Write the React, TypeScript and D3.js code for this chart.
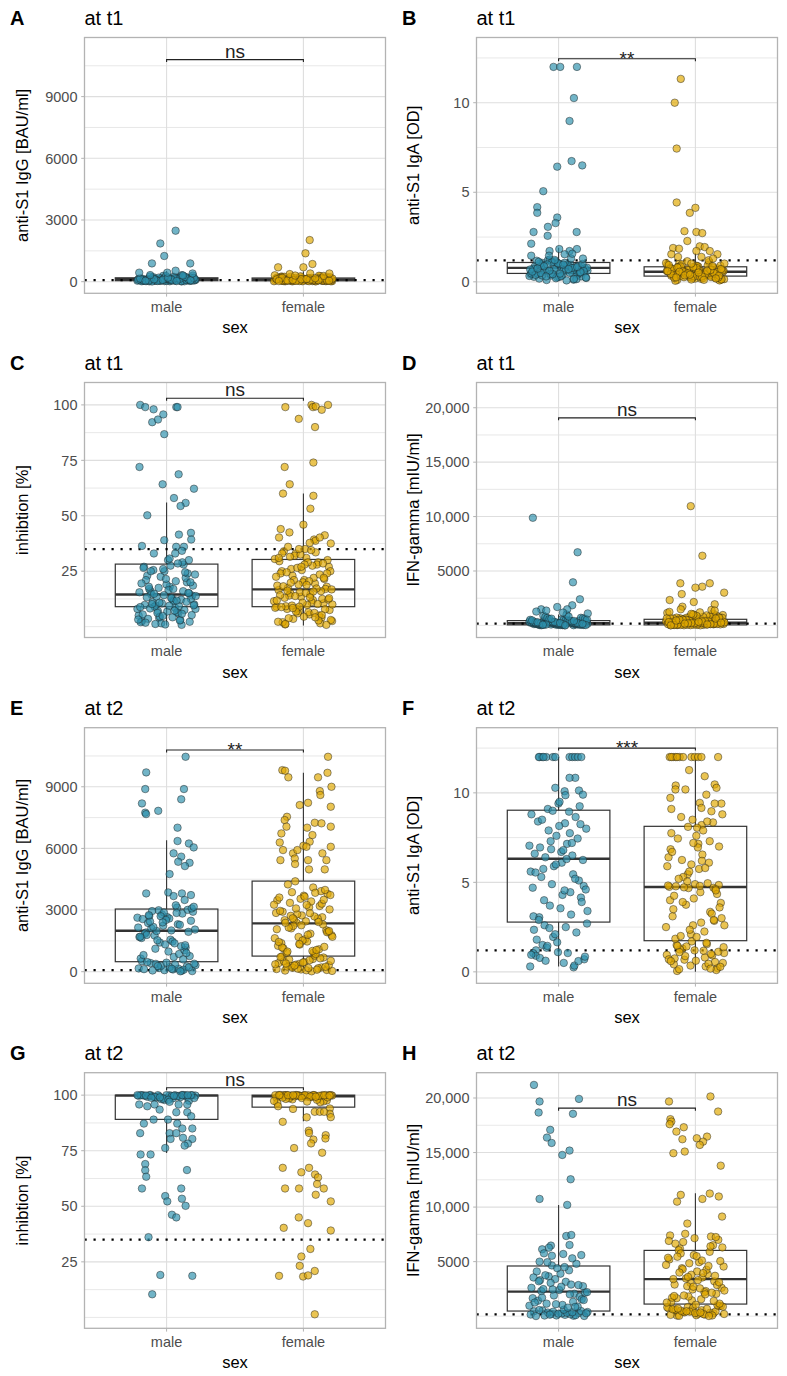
import React from "react";
import * as d3 from "d3";

// ---------------- DATA ----------------
const CATEGORIES = ["male", "female"];
const PANEL_LETTERS = ["A", "B", "C", "D", "E", "F", "G", "H"];
const PANEL_TITLES = ["at t1", "at t1", "at t1", "at t1", "at t2", "at t2", "at t2", "at t2"];
const Y_LABELS = [
  "anti-S1 IgG [BAU/ml]", "anti-S1 IgA [OD]", "inhibtion [%]", "IFN-gamma [mIU/ml]",
  "anti-S1 IgG [BAU/ml]", "anti-S1 IgA [OD]", "inhibtion [%]", "IFN-gamma [mIU/ml]",
];
const SIG_LABELS = ["ns", "**", "ns", "ns", "**", "***", "ns", "ns"];
const BRACKET_VALUES = [10800, 12.45, 103, 19070, 10790, 12.5, 103.3, 19070];
const THRESHOLDS = [80, 1.2, 35, 160, 80, 1.2, 35, 160];

const IGG_TICKS = [0, 3000, 6000, 9000];
const IGG_TICK_LABELS = ["0", "3000", "6000", "9000"];
const IGG_MINOR = [1500, 4500, 7500, 10500];
const IGA_TICKS = [0, 5, 10];
const IGA_TICK_LABELS = ["0", "5", "10"];
const IGA_MINOR = [2.5, 7.5, 12.5];
const INH_TICKS = [25, 50, 75, 100];
const INH_TICK_LABELS = ["25", "50", "75", "100"];
const INH_MINOR = [0, 12.5, 37.5, 62.5, 87.5];
const IFN_TICKS = [5000, 10000, 15000, 20000];
const IFN_TICK_LABELS = ["5000", "10,000", "15,000", "20,000"];
const IFN_MINOR = [0, 2500, 7500, 12500, 17500];

const IGG_DOMAIN: [number, number] = [-564, 11875];
const IGA_DOMAIN: [number, number] = [-0.64, 13.64];
const INH_DOMAIN: [number, number] = [-4.9, 110.1];
const IFN_DOMAIN: [number, number] = [-1112, 22320];

// box stats: [lower whisker, q1, median, q3, upper whisker]
const A_MALE_BOX = [0, 50, 120, 190, 520];
const A_FEMALE_BOX = [0, 45, 110, 180, 500];
const B_MALE_BOX = [0.05, 0.47, 0.78, 1.08, 1.9];
const B_FEMALE_BOX = [0.03, 0.32, 0.56, 0.84, 1.6];
const C_MALE_BOX = [0.5, 9, 14.5, 28.2, 56];
const C_FEMALE_BOX = [0.5, 9, 16.8, 30.3, 60];
const D_MALE_BOX = [0, 50, 200, 440, 1000];
const D_FEMALE_BOX = [0, 50, 250, 560, 1250];
const E_MALE_BOX = [0, 487, 1995, 3050, 6400];
const E_FEMALE_BOX = [0, 760, 2350, 4410, 9680];
const F_MALE_BOX = [0.3, 2.78, 6.32, 9.03, 12];
const F_FEMALE_BOX = [0, 1.74, 4.74, 8.13, 12];
const G_MALE_BOX = [74, 89.1, 99.8, 100, 100];
const G_FEMALE_BOX = [88.3, 94.6, 99.5, 100, 100];
const H_MALE_BOX = [0, 470, 2250, 4600, 10200];
const H_FEMALE_BOX = [0, 1110, 3400, 6030, 11270];

// individually read points: [jitter offset (in category steps), value]
const A_MALE_OUT = [[0.066, 2480], [-0.046, 1860], [-0.017, 1250], [-0.107, 890], [0.173, 890], [0.066, 535], [0.005, 440], [-0.2, 440], [0.19, 400], [-0.12, 320], [0.12, 300]];
const A_FEMALE_OUT = [[0.046, 2025], [0.015, 1380], [0.066, 860], [0, 700], [-0.185, 700], [0.19, 400], [-0.1, 370], [0.05, 400], [-0.06, 300]];
const A_MALE = [15, 42, 88, 130, 65, 210, 30, 150, 95, 55, 175, 22, 118, 260, 70, 140, 48, 190, 105, 35, 80, 230, 125, 60, 160, 18, 98, 285, 75, 135, 45, 205, 112, 28, 168, 90, 52, 240, 145, 68, 110, 38, 182, 85, 300, 58, 128, 20, 155, 102, 72, 220, 40, 138, 92, 33, 198, 115, 62, 250, 82, 148, 25, 172, 108, 50, 132, 78, 215, 44, 96, 165, 12, 122, 275, 66, 142, 36, 188, 100, 56, 228, 86, 152, 30, 118, 70, 195, 47, 320];
const A_FEMALE = [20, 55, 95, 140, 70, 185, 35, 120, 250, 60, 105, 28, 165, 85, 45, 210, 130, 75, 18, 150, 100, 40, 270, 115, 65, 190, 88, 32, 145, 230, 58, 110, 22, 175, 92, 48, 125, 205, 80, 38, 160, 98, 62, 290, 135, 25, 108, 72, 195, 52, 128, 15, 170, 90, 42, 240, 118, 68, 155, 30, 102, 220, 78, 50, 138, 182, 95, 26, 112, 64, 260, 148, 44, 88, 200, 122, 36, 168, 76, 310, 104, 56, 142, 24, 178, 94, 46, 215, 132, 66, 158, 34, 114, 84, 245, 54, 126, 188, 74, 40, 152, 98, 62, 280, 120, 30, 172, 86, 50, 135];

const B_MALE_OUT = [[-0.037, 12], [0.012, 12], [0.134, 12], [0.112, 10.26], [0.08, 8.98], [0.095, 6.74], [0.173, 6.5], [-0.01, 6.43], [-0.112, 5.06], [-0.156, 4.17], [-0.156, 3.85], [-0.01, 3.59], [-0.022, 3.28], [-0.078, 3.07], [-0.08, 2.57], [-0.183, 2.78], [0.132, 2.78], [-0.2, 2.13], [-0.066, 1.72], [0.005, 1.83], [0.134, 1.83], [0.08, 1.72], [0.044, 1.54], [-0.2, 1.46], [-0.07, 1.46], [0.178, 1.3], [0.1, 1.57]];
const B_FEMALE_OUT = [[-0.107, 11.33], [-0.151, 10.0], [-0.137, 7.44], [-0.137, 4.43], [0, 4.13], [-0.041, 3.85], [-0.08, 2.83], [0.007, 2.78], [0.05, 2.72], [-0.059, 2.28], [-0.163, 1.89], [-0.12, 1.85], [0.032, 1.98], [0.068, 1.94], [0.105, 1.72], [0.161, 1.54], [-0.176, 1.54], [-0.127, 1.39], [0.007, 1.72], [0.044, 1.39], [-0.03, 1.02], [0.129, 1.3]];
const B_MALE = [0.12, 0.35, 0.62, 0.85, 1.05, 0.48, 0.72, 0.28, 0.95, 1.2, 0.55, 0.8, 0.18, 0.68, 1.1, 0.42, 0.9, 0.6, 0.3, 1.0, 0.75, 0.5, 1.25, 0.22, 0.66, 0.88, 0.4, 1.15, 0.58, 0.82, 0.1, 0.7, 0.98, 0.45, 0.78, 1.08, 0.33, 0.63, 0.92, 0.52, 0.25, 0.86, 1.3, 0.6, 0.76, 0.38, 1.02, 0.15, 0.7, 0.47, 0.94, 0.56, 0.84, 0.27, 1.18, 0.65, 0.44, 0.79, 1.06, 0.36, 0.9, 0.2, 0.73, 0.5, 0.97, 0.6, 0.32, 1.12, 0.81, 0.43, 0.69, 0.08, 0.87, 0.54, 1.04, 0.39, 0.77, 0.62, 0.24, 0.96, 0.49, 0.83, 1.22, 0.57, 0.71, 0.3, 1.0, 0.46, 0.74, 0.16];
const B_FEMALE = [0.1, 0.3, 0.55, 0.8, 0.42, 0.65, 0.2, 0.9, 0.5, 0.35, 0.72, 0.15, 0.6, 1.0, 0.28, 0.48, 0.78, 0.38, 0.58, 0.12, 0.85, 0.45, 0.68, 0.25, 0.95, 0.52, 0.33, 0.75, 0.18, 0.62, 1.1, 0.4, 0.55, 0.3, 0.82, 0.47, 0.22, 0.7, 0.36, 0.6, 0.08, 0.88, 0.5, 0.27, 0.66, 1.05, 0.43, 0.57, 0.2, 0.76, 0.34, 0.92, 0.53, 0.14, 0.64, 0.4, 0.8, 0.3, 0.58, 0.46, 0.98, 0.24, 0.7, 0.37, 0.52, 1.15, 0.62, 0.17, 0.84, 0.44, 0.32, 0.74, 0.56, 0.26, 0.9, 0.49, 0.06, 0.68, 0.39, 0.6, 0.21, 0.86, 0.54, 0.31, 0.72, 1.2, 0.45, 0.64, 0.28, 0.8, 0.5, 0.13, 0.94, 0.41, 0.58, 0.35, 0.77, 0.23, 0.66, 0.48, 1.02, 0.3, 0.56, 0.19, 0.83, 0.44, 0.62, 0.36, 0.71, 0.52, 0.25, 0.88, 0.4, 0.6, 0.11];

const C_MALE_OUT = [[-0.193, 100], [-0.156, 99], [-0.095, 98], [-0.105, 92.2], [-0.063, 93.4], [-0.024, 95.7], [0.071, 99], [0.08, 99], [-0.017, 86.8], [-0.198, 72], [0.088, 68.7], [-0.029, 64.2], [0.2, 62.2], [0.054, 58], [0.139, 55.8], [0.102, 54.4], [-0.141, 50.2], [0.178, 42.3], [0.09, 41.5], [0.18, 39.3], [-0.017, 39], [-0.18, 36.4], [0.07, 36], [0.127, 36], [0.112, 34.2], [-0.093, 33], [0.063, 33], [0.022, 30.7], [0.163, 30]];
const C_FEMALE_OUT = [[-0.132, 99], [0.059, 100], [0.07, 99], [0.09, 99.3], [0.134, 97.8], [0.18, 100], [-0.034, 93.7], [0.085, 90], [0.073, 74], [-0.137, 72], [-0.1, 64.2], [-0.149, 60], [0.073, 59], [0.051, 53.2], [0, 46], [-0.166, 44], [-0.102, 42.5], [-0.178, 40.2], [0.078, 39.3], [0.088, 38.7], [0.156, 41.2], [0.12, 40.2], [0.2, 37.5], [0.046, 37.8], [-0.112, 36], [-0.032, 35]];
const C_MALE = [0.8, 4, 8, 12, 16, 20, 25, 2.5, 6, 9.5, 14, 18, 23, 28, 1.5, 5, 8.5, 11, 15, 19, 27, 3, 7, 10, 13, 17, 22, 26, 2, 6.5, 9, 12.5, 16.5, 21, 29, 4.5, 8, 11.5, 14.5, 24, 1, 5.5, 9.2, 13.5, 18.5, 27.5, 3.5, 7.5, 10.5, 15.5, 20.5, 25.5, 2.2, 6.8, 9.8, 12.2, 17.5, 23.5, 4.2, 8.2, 11.2, 14.2, 19.5, 28.5, 1.2, 5.2, 9.4, 13.2, 16, 22.5, 3.2, 7.2, 10.2, 15.2, 21.5, 26.5, 2.8, 6.2, 9.6, 12.8, 18, 24.5, 4.8, 8.8, 11.8, 14.8, 20, 30, 1.8, 5.8, 10.8, 13.8, 17, 25];
const C_FEMALE = [1, 4, 7, 9, 12, 15, 18, 21, 25, 29, 33, 2.5, 5.5, 8, 10.5, 13.5, 16.5, 19.5, 23, 27, 31, 34, 1.5, 6, 8.5, 11, 14, 17, 20, 24, 28, 32, 3, 6.5, 9.2, 12.5, 15.5, 18.5, 22, 26, 30, 35, 2, 5, 8.2, 11.5, 14.5, 17.5, 21.5, 25.5, 29.5, 33.5, 3.5, 7.5, 9.8, 13, 16, 19, 22.5, 27.5, 31.5, 0.8, 4.5, 8.8, 10.2, 13.8, 16.8, 20.5, 24.5, 28.5, 32.5, 2.2, 6.2, 9.5, 12.2, 15.2, 18.2, 23.5, 26.5, 30.5, 34.5, 3.8, 7.8, 10.8, 14.2, 17.2, 21, 25, 29, 1.2, 5.2, 9, 11.8, 15.8, 19.8, 24, 28, 33, 2.8, 6.8, 10, 13.2, 16.2, 22, 27, 31, 4.2, 8.4, 12.8, 18.8];

const D_MALE_OUT = [[-0.188, 9890], [0.139, 6720], [0.105, 3960], [0.156, 2400], [0.1, 1850], [0.063, 1480], [-0.01, 1690], [-0.127, 1480], [-0.163, 1270], [-0.09, 1360], [0.032, 1180]];
const D_FEMALE_OUT = [[-0.034, 10960], [0.051, 6400], [-0.11, 3870], [0.105, 3870], [0.05, 3560], [0, 3470], [0.21, 3010], [-0.1, 2880], [-0.188, 2330], [-0.012, 2150], [0.141, 1940], [-0.095, 1720], [-0.107, 1480], [0.117, 1420], [-0.19, 1240], [-0.03, 1060], [0.141, 1360]];
const D_MALE = [20, 80, 150, 220, 300, 420, 50, 120, 190, 260, 380, 550, 35, 100, 170, 240, 330, 480, 700, 60, 130, 200, 280, 360, 520, 15, 90, 160, 230, 310, 450, 650, 40, 110, 180, 250, 340, 500, 900, 70, 140, 210, 290, 400, 600, 25, 95, 165, 235, 320, 470, 780, 55, 125, 195, 270, 350, 530, 10, 85, 155, 225, 305, 440, 680, 45, 115, 185, 255, 345, 510, 1000, 65, 135, 205, 285, 390, 580, 30, 105, 175, 245, 325, 460, 820, 75, 145, 215, 295, 410, 620, 1100, 5, 60];
const D_FEMALE = [30, 100, 180, 260, 350, 480, 640, 850, 60, 140, 220, 300, 420, 560, 760, 1000, 20, 90, 170, 250, 340, 460, 600, 800, 1150, 50, 130, 210, 290, 400, 530, 700, 950, 10, 80, 160, 240, 320, 440, 580, 740, 40, 120, 200, 280, 380, 500, 660, 900, 70, 150, 230, 310, 430, 550, 720, 1080, 25, 110, 190, 270, 360, 470, 620, 820, 55, 135, 215, 295, 410, 540, 680, 920, 15, 95, 175, 255, 345, 490, 650, 780, 45, 125, 205, 285, 375, 515, 690, 1200, 65, 145, 225, 305, 395, 525, 710, 870, 35, 115, 195, 275, 365, 505, 630, 990, 5, 85, 165, 245, 330, 450];

const E_MALE_OUT = [[0.139, 10460], [-0.149, 9700], [-0.156, 8890], [0.127, 8890], [0.107, 8390], [-0.18, 8190], [-0.156, 7740], [-0.15, 7670], [-0.061, 7830], [0.08, 7010], [0.08, 6360], [0.163, 6240], [0.198, 6050], [0.051, 5760], [0.107, 5600], [0.085, 5350], [0.168, 5300], [0.134, 5140], [0.022, 4750], [-0.149, 3810], [0.012, 3860], [0.112, 3810], [0.178, 3730], [0.051, 3680], [0.132, 3490]];
const E_FEMALE_OUT = [[0.18, 10460], [-0.154, 9810], [-0.134, 9780], [-0.11, 9460], [0.176, 9680], [0.107, 9460], [0.205, 9000], [0.12, 8790], [0.124, 8600], [0.034, 8220], [-0.027, 8110], [0.2, 8030], [-0.12, 7540], [-0.137, 7380], [0.083, 7250], [0.132, 7220], [-0.124, 7060], [0.027, 7010], [0.2, 7060], [-0.161, 6730], [0.066, 6650], [0.046, 6330], [-0.173, 6290], [-0.076, 5760], [-0.044, 5920], [0, 6130], [0.022, 6080], [0.2, 6080], [-0.149, 5920], [0.139, 5760], [-0.063, 5510], [-0.168, 5430], [0.034, 5430], [-0.061, 5240], [0.168, 5430], [0.041, 4980], [0.156, 4980]];
const E_MALE = [45, 180, 320, 110, 420, 260, 75, 510, 150, 380, 30, 230, 470, 95, 290, 160, 350, 60, 210, 440, 125, 20, 275, 390, 140, 2710, 1180, 2240, 640, 3120, 1760, 2480, 980, 1910, 2830, 1420, 2630, 720, 2110, 3010, 1330, 2560, 860, 1980, 2920, 1560, 2370, 1050, 2790, 1690, 3230, 2180, 760, 2660, 1850, 1240, 2990, 2050, 1470, 2440, 910, 2880, 1640, 2310, 1120, 3080, 2590, 1790, 600, 2700, 2150, 1380, 2950, 1940, 2520, 810, 2280, 1530, 3160, 2010, 2750, 1290, 2400, 1700, 2860];
const E_FEMALE = [55, 210, 380, 130, 620, 290, 85, 470, 740, 170, 340, 40, 560, 250, 690, 110, 420, 780, 195, 320, 70, 510, 650, 150, 360, 20, 590, 240, 450, 710, 100, 300, 530, 180, 400, 2650, 1320, 3480, 940, 2110, 3790, 1580, 2920, 1090, 2380, 3260, 1850, 4250, 1210, 2740, 3610, 860, 2230, 3030, 1470, 2510, 3920, 1690, 2860, 1010, 3350, 2020, 3700, 1390, 2590, 4400, 1770, 3140, 920, 2300, 3550, 1260, 2690, 3870, 1940, 2450, 1140, 3200, 2800, 1630, 3420, 2150, 3980, 1520, 2960, 1060, 2550, 3730, 1800, 2380, 3310, 1350, 2070, 4100, 2720, 1920, 3650, 1180, 2420, 3080, 1700, 2850, 980, 3500, 2260, 1450, 3840, 2600, 1980, 3250];

const F_MALE_OUT = [[-0.139, 12], [-0.12, 12], [-0.09, 12], [-0.041, 12], [0.08, 12], [0.1, 12], [0.12, 12], [0.141, 12], [0.166, 12], [-0.144, 12], [-0.11, 12], [-0.024, 12], [0.122, 10.84], [0.08, 10.84], [-0.024, 10.28], [0.044, 10.09], [0.149, 10.13], [0.178, 9.9], [0.05, 9.87], [0.007, 9.5], [-0.185, 1.04], [-0.166, 0.9], [-0.137, 0.78], [-0.095, 0.62], [-0.2, 0.95]];
const F_FEMALE_OUT = [[-0.188, 12], [-0.163, 12], [-0.144, 12], [-0.115, 12], [-0.09, 12], [-0.029, 12], [-0.005, 12], [0.02, 12], [0.044, 12], [0.166, 12], [-0.176, 12], [-0.134, 12], [-0.046, 11.27], [0.068, 10.93], [-0.144, 10.41], [0.141, 10.47], [0.154, 10.28], [-0.073, 10.19], [-0.146, 10.19], [-0.183, 9.72], [0.08, 9.9], [0.032, 9.44], [0.19, 9.4], [0.141, 9.4], [0.044, 9.16], [0.117, 8.97], [-0.176, 9.1]];
const F_MALE = [0.25, 6.85, 3.4, 8.3, 1.5, 5.1, 7.6, 2.35, 4.45, 9.1, 0.7, 6.1, 3.05, 8.65, 1.95, 5.6, 7.15, 2.6, 4.15, 9.4, 1.2, 6.5, 3.7, 8.0, 0.5, 5.3, 7.45, 2.1, 4.7, 8.95, 1.35, 6.25, 3.55, 8.4, 0.35, 4.9, 7.05, 2.5, 5.75, 9.25, 1.65, 6.6, 3.2, 7.9, 0.85, 4.3, 6.95, 2.2, 5.9, 8.8, 1.05, 6.4, 3.9, 8.15, 1.8, 5.45, 7.3, 2.7, 4.55, 8.5, 0.6, 6.0, 3.1, 7.75, 1.45, 4.8, 6.7, 2.9, 5.2, 9.0, 0.3, 6.3, 4.0, 8.25, 1.1, 5.55, 7.2, 2.45, 4.6, 6.8];
const F_FEMALE = [0.05, 4.7, 2.1, 6.4, 0.8, 1.3, 4.85, 7.6, 0.42, 3.35, 5.45, 1.05, 8.2, 0.15, 4.62, 2.6, 6.85, 1.55, 0.68, 3.85, 7.15, 4.78, 0.92, 2.35, 5.9, 1.18, 8.65, 0.22, 4.9, 3.1, 6.1, 1.42, 0.5, 4.45, 7.45, 2.85, 1.7, 4.75, 0.3, 5.3, 3.6, 8.05, 0.75, 1.0, 4.68, 2.5, 6.55, 1.25, 0.1, 4.1, 7.75, 4.95, 0.88, 3.0, 5.75, 1.5, 8.35, 0.35, 4.82, 2.25, 6.25, 1.12, 0.62, 3.5, 7.3, 5.05, 1.38, 2.75, 5.2, 0.55, 8.5, 4.0, 1.62, 4.72, 0.28, 6.95, 1.85, 3.25, 5.6, 0.95, 7.9, 2.0, 4.35, 1.2, 6.7, 0.45, 3.75, 8.8, 4.8, 1.45, 2.9, 6.0, 0.7, 5.8, 3.9, 7.0, 1.95, 4.25, 0.18, 8.1, 2.6, 6.2, 1.1, 4.55, 7.2, 0.6, 8.4];

const G_MALE_OUT = [[-0.2, 95.8], [-0.141, 95], [-0.051, 93.5], [-0.088, 95.8], [0.088, 95.8], [0.151, 95.8], [0.022, 97], [0.151, 92.3], [0.071, 92.3], [0.18, 90.5], [-0.166, 87.2], [-0.095, 89], [0.01, 89], [0.078, 87.2], [0.115, 85], [0.188, 85], [-0.193, 82.9], [0.022, 82.9], [0.071, 82.9], [0.029, 80.3], [0.188, 80.3], [0.12, 80.8], [0.156, 78.2], [0.132, 77.3], [-0.01, 76.2], [-0.19, 73.3], [-0.117, 73.3], [-0.156, 69], [-0.156, 66.2], [-0.149, 63.3], [0.149, 66.3], [-0.18, 58], [0.107, 58], [-0.01, 54.6], [0.005, 52.2], [0.112, 53.4], [0.139, 50.2], [0.039, 46.2], [0.071, 45], [-0.132, 36.1], [-0.046, 19.1], [0.188, 18.7], [-0.105, 10.4]];
const G_FEMALE_OUT = [[-0.185, 95], [-0.076, 93.8], [0.193, 94], [0.024, 90], [0.083, 92.5], [0.12, 92.5], [0.193, 91.6], [0.2, 90.1], [0.151, 92.5], [-0.151, 88], [0.039, 84], [0.041, 83], [0.163, 82], [0.161, 80.5], [0.073, 80], [0.056, 78.3], [-0.068, 76.2], [0.137, 74.1], [-0.151, 67.3], [-0.015, 65.3], [0.041, 67.3], [0.085, 64.3], [0.107, 63], [0.1, 60], [-0.134, 58], [-0.032, 58], [0.149, 58], [0.09, 55.2], [0.2, 52.2], [-0.034, 45], [0.034, 42.4], [-0.144, 40.3], [0.2, 39.1], [0.051, 30.8], [-0.015, 27.4], [-0.027, 23.2], [0.083, 20.9], [-0.178, 18.7], [-0.002, 18.4], [0.034, 18.9], [0.083, 1.4]];
const G_MALE = [100, 99.5, 99.8, 98.6, 100, 99.2, 97.8, 100, 99.6, 98.9, 100, 99.9, 99.3, 100, 98.2, 99.7, 100, 99.4, 97.5, 100, 99.8, 99.1, 100, 98.7, 99.6, 100, 99.9, 98.4, 100, 99.5, 99.2, 100, 97.9, 99.8, 100, 99.0, 100, 99.7, 98.8, 100];
const G_FEMALE = [100, 99.6, 99.9, 98.8, 100, 99.3, 97.6, 100, 99.7, 98.5, 100, 99.8, 99.1, 100, 97.2, 99.5, 100, 99.9, 98.1, 100, 99.4, 100, 96.8, 99.8, 100, 99.2, 98.6, 100, 99.7, 100, 97.9, 99.5, 100, 99.9, 98.3, 100, 99.6, 96.5, 100, 99.8, 99.0, 100, 98.9, 99.7, 100, 97.4, 99.4, 100, 99.9, 98.7, 100, 99.3, 100, 99.8, 97.1];

const H_MALE_OUT = [[-0.18, 21200], [-0.139, 19680], [0.149, 19920], [-0.146, 18670], [0.105, 18550], [-0.061, 17080], [-0.085, 16370], [-0.051, 15880], [0.08, 15180], [0.027, 14780], [0.088, 12550], [-0.139, 10750], [0.063, 10200], [0.056, 7350], [0.093, 7440], [0.08, 6530], [-0.056, 6470], [-0.071, 6280], [-0.12, 6130], [-0.107, 5760], [-0.049, 5540], [0.034, 5700], [0.166, 5600], [0.1, 5300], [-0.139, 5000]];
const H_FEMALE_OUT = [[0.11, 20140], [-0.193, 19680], [0.166, 18760], [-0.183, 18060], [-0.176, 17840], [-0.188, 17600], [-0.085, 17320], [-0.139, 16920], [-0.095, 16220], [0.01, 16310], [0.085, 16460], [0.056, 16000], [0.032, 15700], [-0.161, 14940], [-0.078, 15090], [0.185, 13800], [-0.134, 10500], [-0.107, 11120], [0.051, 10750], [0.105, 11240], [0.171, 10970], [0.195, 9130], [-0.059, 8490]];
const H_MALE = [40, 210, 380, 120, 520, 290, 70, 450, 170, 330, 20, 250, 560, 95, 410, 150, 310, 60, 480, 230, 10, 360, 140, 270, 590, 2300, 880, 3400, 1650, 4200, 1150, 2750, 3900, 1420, 2050, 4650, 960, 3150, 2480, 1780, 4400, 1250, 2900, 3650, 2150, 1030, 3300, 4800, 1900, 2600, 780, 3750, 1550, 2400, 4100, 1320, 3050, 2200, 4500, 1700, 2850, 1100, 3550, 2000, 4950, 1480, 2700, 3200, 850, 2450];
const H_FEMALE = [50, 260, 480, 720, 150, 380, 900, 90, 610, 320, 830, 200, 540, 30, 430, 760, 120, 670, 350, 950, 230, 580, 70, 410, 810, 180, 500, 990, 280, 640, 15, 450, 870, 330, 700, 3200, 1450, 5200, 2300, 6800, 1150, 4100, 2900, 7300, 1800, 4700, 3550, 6200, 2050, 5600, 1300, 3850, 7550, 2600, 4950, 1650, 6500, 3050, 5350, 2200, 4400, 7000, 1050, 3400, 5900, 2750, 4550, 1550, 6050, 3700, 2450, 7400, 4250, 1900, 5050, 3300, 6650, 2150, 4850, 1250, 3950, 5750, 2850, 7150, 1700, 4600, 3450, 6300, 2550, 5450, 1400, 3800, 6900, 2000, 4300, 3100, 5500, 1850, 6400, 3600, 2350, 5100, 4000, 7250, 2700];

// ---------------- LAYOUT / STYLE ----------------
const W = 787;
const H = 1376;
const FONT = "'Liberation Sans', Arial, Helvetica, sans-serif";
const MALE_FILL = "#2E90AC";
const FEMALE_FILL = "#E0A800";
const COLS = [
  { left: 84.5, right: 385.5, letterX: 10, yTitleX: 22.5 },
  { left: 476.5, right: 777.5, letterX: 402, yTitleX: 413 },
];
const ROWS = [
  { top: 37.5, bottom: 293.3 },
  { top: 382.5, bottom: 637.5 },
  { top: 727.7, bottom: 983.3 },
  { top: 1072.7, bottom: 1328.3 },
];

type Pair = number[];
interface Spec {
  idx: number;
  domain: [number, number];
  ticks: number[];
  tickLabels: string[];
  minor: number[];
  maleOut: Pair[];
  femaleOut: Pair[];
  male: number[];
  female: number[];
  maleBox: number[];
  femaleBox: number[];
}

const SPECS: Spec[] = [
  { idx: 0, domain: IGG_DOMAIN, ticks: IGG_TICKS, tickLabels: IGG_TICK_LABELS, minor: IGG_MINOR, maleOut: A_MALE_OUT, femaleOut: A_FEMALE_OUT, male: A_MALE, female: A_FEMALE, maleBox: A_MALE_BOX, femaleBox: A_FEMALE_BOX },
  { idx: 1, domain: IGA_DOMAIN, ticks: IGA_TICKS, tickLabels: IGA_TICK_LABELS, minor: IGA_MINOR, maleOut: B_MALE_OUT, femaleOut: B_FEMALE_OUT, male: B_MALE, female: B_FEMALE, maleBox: B_MALE_BOX, femaleBox: B_FEMALE_BOX },
  { idx: 2, domain: INH_DOMAIN, ticks: INH_TICKS, tickLabels: INH_TICK_LABELS, minor: INH_MINOR, maleOut: C_MALE_OUT, femaleOut: C_FEMALE_OUT, male: C_MALE, female: C_FEMALE, maleBox: C_MALE_BOX, femaleBox: C_FEMALE_BOX },
  { idx: 3, domain: IFN_DOMAIN, ticks: IFN_TICKS, tickLabels: IFN_TICK_LABELS, minor: IFN_MINOR, maleOut: D_MALE_OUT, femaleOut: D_FEMALE_OUT, male: D_MALE, female: D_FEMALE, maleBox: D_MALE_BOX, femaleBox: D_FEMALE_BOX },
  { idx: 4, domain: IGG_DOMAIN, ticks: IGG_TICKS, tickLabels: IGG_TICK_LABELS, minor: IGG_MINOR, maleOut: E_MALE_OUT, femaleOut: E_FEMALE_OUT, male: E_MALE, female: E_FEMALE, maleBox: E_MALE_BOX, femaleBox: E_FEMALE_BOX },
  { idx: 5, domain: IGA_DOMAIN, ticks: IGA_TICKS, tickLabels: IGA_TICK_LABELS, minor: IGA_MINOR, maleOut: F_MALE_OUT, femaleOut: F_FEMALE_OUT, male: F_MALE, female: F_FEMALE, maleBox: F_MALE_BOX, femaleBox: F_FEMALE_BOX },
  { idx: 6, domain: INH_DOMAIN, ticks: INH_TICKS, tickLabels: INH_TICK_LABELS, minor: INH_MINOR, maleOut: G_MALE_OUT, femaleOut: G_FEMALE_OUT, male: G_MALE, female: G_FEMALE, maleBox: G_MALE_BOX, femaleBox: G_FEMALE_BOX },
  { idx: 7, domain: IFN_DOMAIN, ticks: IFN_TICKS, tickLabels: IFN_TICK_LABELS, minor: IFN_MINOR, maleOut: H_MALE_OUT, femaleOut: H_FEMALE_OUT, male: H_MALE, female: H_FEMALE, maleBox: H_MALE_BOX, femaleBox: H_FEMALE_BOX },
];

const GOLDEN = 0.6180339887;
function spread(i: number, seed: number) {
  // even, deterministic horizontal spread standing in for geom_jitter
  return (((seed + (i + 1) * GOLDEN) % 1) - 0.5) * 0.43;
}

function Panel({ s }: { s: Spec }) {
  const col = COLS[s.idx % 2];
  const row = ROWS[Math.floor(s.idx / 2)];
  const x = d3.scalePoint<string>().domain(CATEGORIES).range([col.left, col.right]).padding(0.6);
  const step = x.step();
  const y = d3.scaleLinear().domain(s.domain).range([row.bottom, row.top]);
  const boxW = step * 0.75;
  const groups = [
    { cat: "male", out: s.maleOut, vals: s.male, box: s.maleBox, fill: MALE_FILL, seed: 0.137 },
    { cat: "female", out: s.femaleOut, vals: s.female, box: s.femaleBox, fill: FEMALE_FILL, seed: 0.571 },
  ];
  const sig = SIG_LABELS[s.idx];
  const by = y(BRACKET_VALUES[s.idx]);
  const onlyStars = /^\*+$/.test(sig);
  const gridColor = "#DEDEDE";
  return (
    <g>
      {/* grid */}
      {s.minor.map((v) => (
        <line key={"mn" + v} x1={col.left} x2={col.right} y1={y(v)} y2={y(v)} stroke={gridColor} strokeWidth={0.7} />
      ))}
      {s.ticks.map((v) => (
        <line key={"mj" + v} x1={col.left} x2={col.right} y1={y(v)} y2={y(v)} stroke={gridColor} strokeWidth={1.1} />
      ))}
      {CATEGORIES.map((c) => (
        <line key={"vx" + c} x1={x(c)} x2={x(c)} y1={row.top} y2={row.bottom} stroke={gridColor} strokeWidth={1.1} />
      ))}
      {/* boxes */}
      {groups.map((g) => {
        const cx = x(g.cat) as number;
        const [wlo, q1, med, q3, whi] = g.box;
        return (
          <g key={"box" + g.cat} stroke="#333333" fill="none">
            <line x1={cx} x2={cx} y1={y(q3)} y2={y(whi)} strokeWidth={1.1} />
            <line x1={cx} x2={cx} y1={y(q1)} y2={y(wlo)} strokeWidth={1.1} />
            <rect x={cx - boxW / 2} width={boxW} y={y(q3)} height={Math.max(0.1, y(q1) - y(q3))} strokeWidth={1.2} />
            <line x1={cx - boxW / 2} x2={cx + boxW / 2} y1={y(med)} y2={y(med)} strokeWidth={2.4} />
          </g>
        );
      })}
      {/* threshold */}
      <line x1={col.left} x2={col.right} y1={y(THRESHOLDS[s.idx])} y2={y(THRESHOLDS[s.idx])} stroke="#000" strokeWidth={2.2} strokeDasharray="2.2 6.8" />
      {/* points */}
      {groups.map((g) => {
        const cx = x(g.cat) as number;
        const pts: [number, number][] = [
          ...g.vals.map((v, i) => [spread(i, g.seed), v] as [number, number]),
          ...g.out.map((p) => [p[0], p[1]] as [number, number]),
        ];
        return (
          <g key={"pts" + g.cat}>
            {pts.map((p, i) => (
              <circle key={i} cx={cx + p[0] * step} cy={y(p[1])} r={3.75} fill={g.fill} fillOpacity={0.68} stroke="#1a1a1a" strokeOpacity={0.6} strokeWidth={0.75} />
            ))}
          </g>
        );
      })}
      {/* significance bracket */}
      <path d={`M${x("male")},${by + 2.5}V${by}H${x("female")}V${by + 2.5}`} fill="none" stroke="#222" strokeWidth={1.1} />
      <text x={((x("male") as number) + (x("female") as number)) / 2} y={onlyStars ? by + 6 : by - 2} textAnchor="middle" fontSize={19} fontFamily={FONT} fill="#222">{sig}</text>
      {/* border */}
      <rect x={col.left} y={row.top} width={col.right - col.left} height={row.bottom - row.top} fill="none" stroke="#B3B3B3" strokeWidth={1.3} />
      {/* y axis */}
      {s.ticks.map((v, i) => (
        <g key={"yt" + v}>
          <line x1={col.left - 3.3} x2={col.left} y1={y(v)} y2={y(v)} stroke="#B3B3B3" strokeWidth={1} />
          <text x={col.left - 7} y={y(v)} dy="0.36em" textAnchor="end" fontSize={14.5} fontFamily={FONT} fill="#4D4D4D">{s.tickLabels[i]}</text>
        </g>
      ))}
      {/* x axis */}
      {CATEGORIES.map((c) => (
        <g key={"xt" + c}>
          <line x1={x(c)} x2={x(c)} y1={row.bottom} y2={row.bottom + 3.3} stroke="#B3B3B3" strokeWidth={1} />
          <text x={x(c)} y={row.bottom + 18.8} textAnchor="middle" fontSize={14.5} fontFamily={FONT} fill="#4D4D4D">{c}</text>
        </g>
      ))}
      <text x={(col.left + col.right) / 2} y={row.bottom + 40} textAnchor="middle" fontSize={16.5} fontFamily={FONT} fill="#000">sex</text>
      <text transform={`translate(${col.yTitleX},${(row.top + row.bottom) / 2}) rotate(-90)`} textAnchor="middle" dy="0.35em" fontSize={16.5} fontFamily={FONT} fill="#000">{Y_LABELS[s.idx]}</text>
      {/* titles */}
      <text x={col.letterX} y={row.top - 12.5} fontSize={20} fontWeight="bold" fontFamily={FONT} fill="#000">{PANEL_LETTERS[s.idx]}</text>
      <text x={col.left} y={row.top - 12.5} fontSize={20} fontFamily={FONT} fill="#000">{PANEL_TITLES[s.idx]}</text>
    </g>
  );
}

export default function App() {
  return (
    <svg width={W} height={H} viewBox={`0 0 ${W} ${H}`} style={{ position: "absolute", left: 0, top: 0 }}>
      <rect x={0} y={0} width={W} height={H} fill="#fff" />
      {SPECS.map((s) => (
        <Panel key={s.idx} s={s} />
      ))}
    </svg>
  );
}
